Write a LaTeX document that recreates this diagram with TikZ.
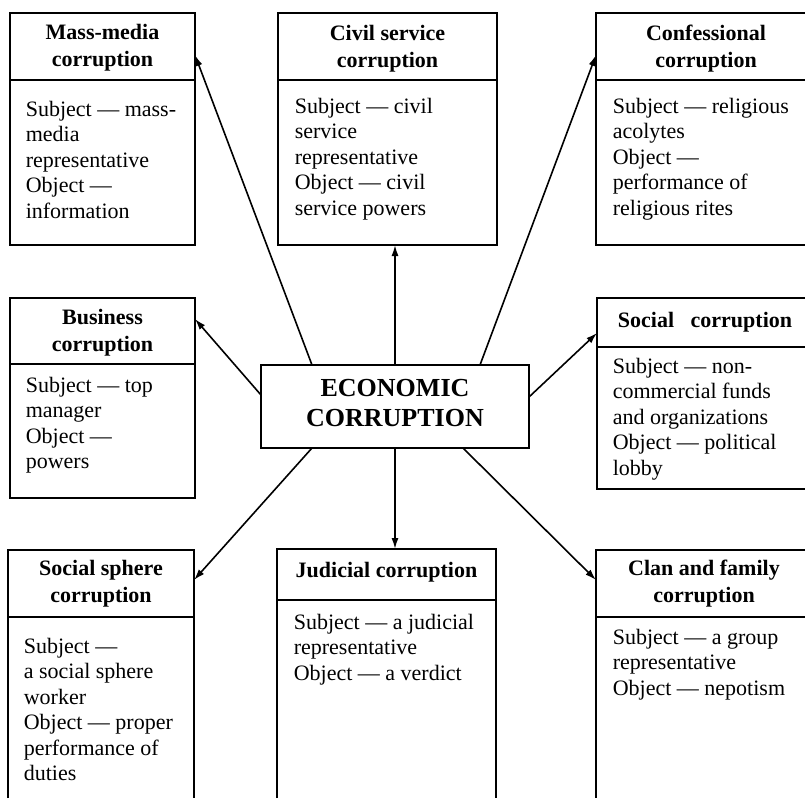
\documentclass[tikz,border=0pt]{standalone}
\usepackage{fontspec}
\setmainfont{Liberation Serif}
\usetikzlibrary{calc,arrows.meta}
\begin{document}
\begin{tikzpicture}[x=1pt,y=-1pt,line width=1.6pt,
  frame/.style={rectangle,inner sep=0pt,outer sep=0pt,anchor=north west,draw=none},
  ttl/.style={font=\fontsize{22}{27}\selectfont\bfseries,align=center,inner sep=0pt},
  bdy/.style={font=\fontsize{22}{25.5}\selectfont,align=left,inner sep=0pt,anchor=north west},
  big/.style={font=\fontsize{26}{30}\selectfont\bfseries,align=center,inner sep=0pt},
  conn/.style={-{Latex[length=11pt,width=7pt]},line width=1.6pt}]
\useasboundingbox (0,0) rectangle (805,798);

% box frames
\node[frame,minimum width=185,minimum height=232] (MM) at (10,13) {};
\node[frame,minimum width=219,minimum height=232] (CS) at (278,13) {};
\node[frame,minimum width=209,minimum height=232] (CF) at (596,13) {};
\node[frame,minimum width=185,minimum height=200] (BU) at (10,298) {};
\node[frame,minimum width=268,minimum height=83] (CE) at (261,365) {};
\node[frame,minimum width=208,minimum height=191] (SO) at (597,298) {};
\node[frame,minimum width=186,minimum height=248] (SS) at (8,550) {};
\node[frame,minimum width=219,minimum height=249] (JU) at (277,549) {};
\node[frame,minimum width=209,minimum height=248] (CL) at (596,550) {};

% outlines
\draw (MM.north west) rectangle (MM.south east);
\draw (CS.north west) rectangle (CS.south east);
\draw (CF.north east) -- (CF.north west) -- (CF.south west) -- (CF.south east);
\draw (BU.north west) rectangle (BU.south east);
\draw (CE.north west) rectangle (CE.south east);
\draw (SO.north east) -- (SO.north west) -- (SO.south west) -- (SO.south east);
\draw (SS.south west) -- (SS.north west) -- (SS.north east) -- (SS.south east);
\draw (JU.south west) -- (JU.north west) -- (JU.north east) -- (JU.south east);
\draw (CL.north east) -- (CL.north west) -- (CL.south west);

% header dividers
\draw ($(MM.north west)+(0,67)$) -- ($(MM.north east)+(0,67)$);
\draw ($(CS.north west)+(0,67)$) -- ($(CS.north east)+(0,67)$);
\draw ($(CF.north west)+(0,67)$) -- ($(CF.north east)+(0,67)$);
\draw ($(BU.north west)+(0,66)$) -- ($(BU.north east)+(0,66)$);
\draw ($(SO.north west)+(0,49)$) -- ($(SO.north east)+(0,49)$);
\draw ($(SS.north west)+(0,67)$) -- ($(SS.north east)+(0,67)$);
\draw ($(JU.north west)+(0,51)$) -- ($(JU.north east)+(0,51)$);
\draw ($(CL.north west)+(0,67)$) -- ($(CL.north east)+(0,67)$);

% titles
\node[ttl] (MMt) at ($(MM.north)+(0,35)$) {Mass-media\\corruption};
\node[ttl] (CSt) at ($(CS.north)+(0,36)$) {Civil service\\corruption};
\node[ttl] (CFt) at ($(CF.north west)+(110,36)$) {Confessional\\corruption};
\node[ttl] (BUt) at ($(BU.north)+(0,35)$) {Business\\corruption};
\node[ttl] (SOt) at ($(SO.north west)+(108,24)$) {Social\ \ \ corruption};
\node[ttl] (SSt) at ($(SS.north)+(0,34)$) {Social sphere\\corruption};
\node[ttl] (JUt) at ($(JU.north)+(0,23)$) {Judicial corruption};
\node[ttl] (CLt) at ($(CL.north west)+(108,34)$) {Clan and family\\corruption};
\node[big] (CEt) at ($(CE.center)+(0,-3)$) {ECONOMIC\\CORRUPTION};

% bodies
\node[bdy] (MMb) at ($(MM.north west)+(15,87)$) {Subject — mass-\\media\\representative\\Object —\\information};
\node[bdy] (CSb) at ($(CS.north west)+(16,84)$) {Subject — civil\\service\\representative\\Object — civil\\service powers};
\node[bdy] (CFb) at ($(CF.north west)+(16,84)$) {Subject — religious\\acolytes\\Object —\\performance of\\religious rites};
\node[bdy] (BUb) at ($(BU.north west)+(15,78)$) {Subject — top\\manager\\Object —\\powers};
\node[bdy] (SOb) at ($(SO.north west)+(15,59)$) {Subject — non-\\commercial funds\\and organizations\\Object — political\\lobby};
\node[bdy] (SSb) at ($(SS.north west)+(15,87)$) {Subject —\\a social sphere\\worker\\Object — proper\\performance of\\duties};
\node[bdy] (JUb) at ($(JU.north west)+(16,64)$) {Subject — a judicial\\representative\\Object — a verdict};
\node[bdy] (CLb) at ($(CL.north west)+(16,78)$) {Subject — a group\\representative\\Object — nepotism};

% connectors
\draw[conn] ($(CE.north west)+(51,0)$) -- ($(MM.north east)+(0,42)$);
\draw[conn] (CE.north) -- (CE.north |- CS.south);
\draw[conn] ($(CE.north west)+(219,0)$) -- ($(CF.north west)+(0,42)$);
\draw[conn] ($(CE.north west)+(0,30)$) -- ($(BU.north east)+(0,21)$);
\draw[conn] ($(CE.north east)+(0,32)$) -- ($(SO.north west)+(0,35)$);
\draw[conn] ($(CE.south west)+(51,0)$) -- ($(SS.north east)+(0,30)$);
\draw[conn] (CE.south) -- (CE.south |- JU.north);
\draw[conn] ($(CE.south west)+(202,0)$) -- ($(CL.north west)+(0,30)$);
\end{tikzpicture}
\end{document}
